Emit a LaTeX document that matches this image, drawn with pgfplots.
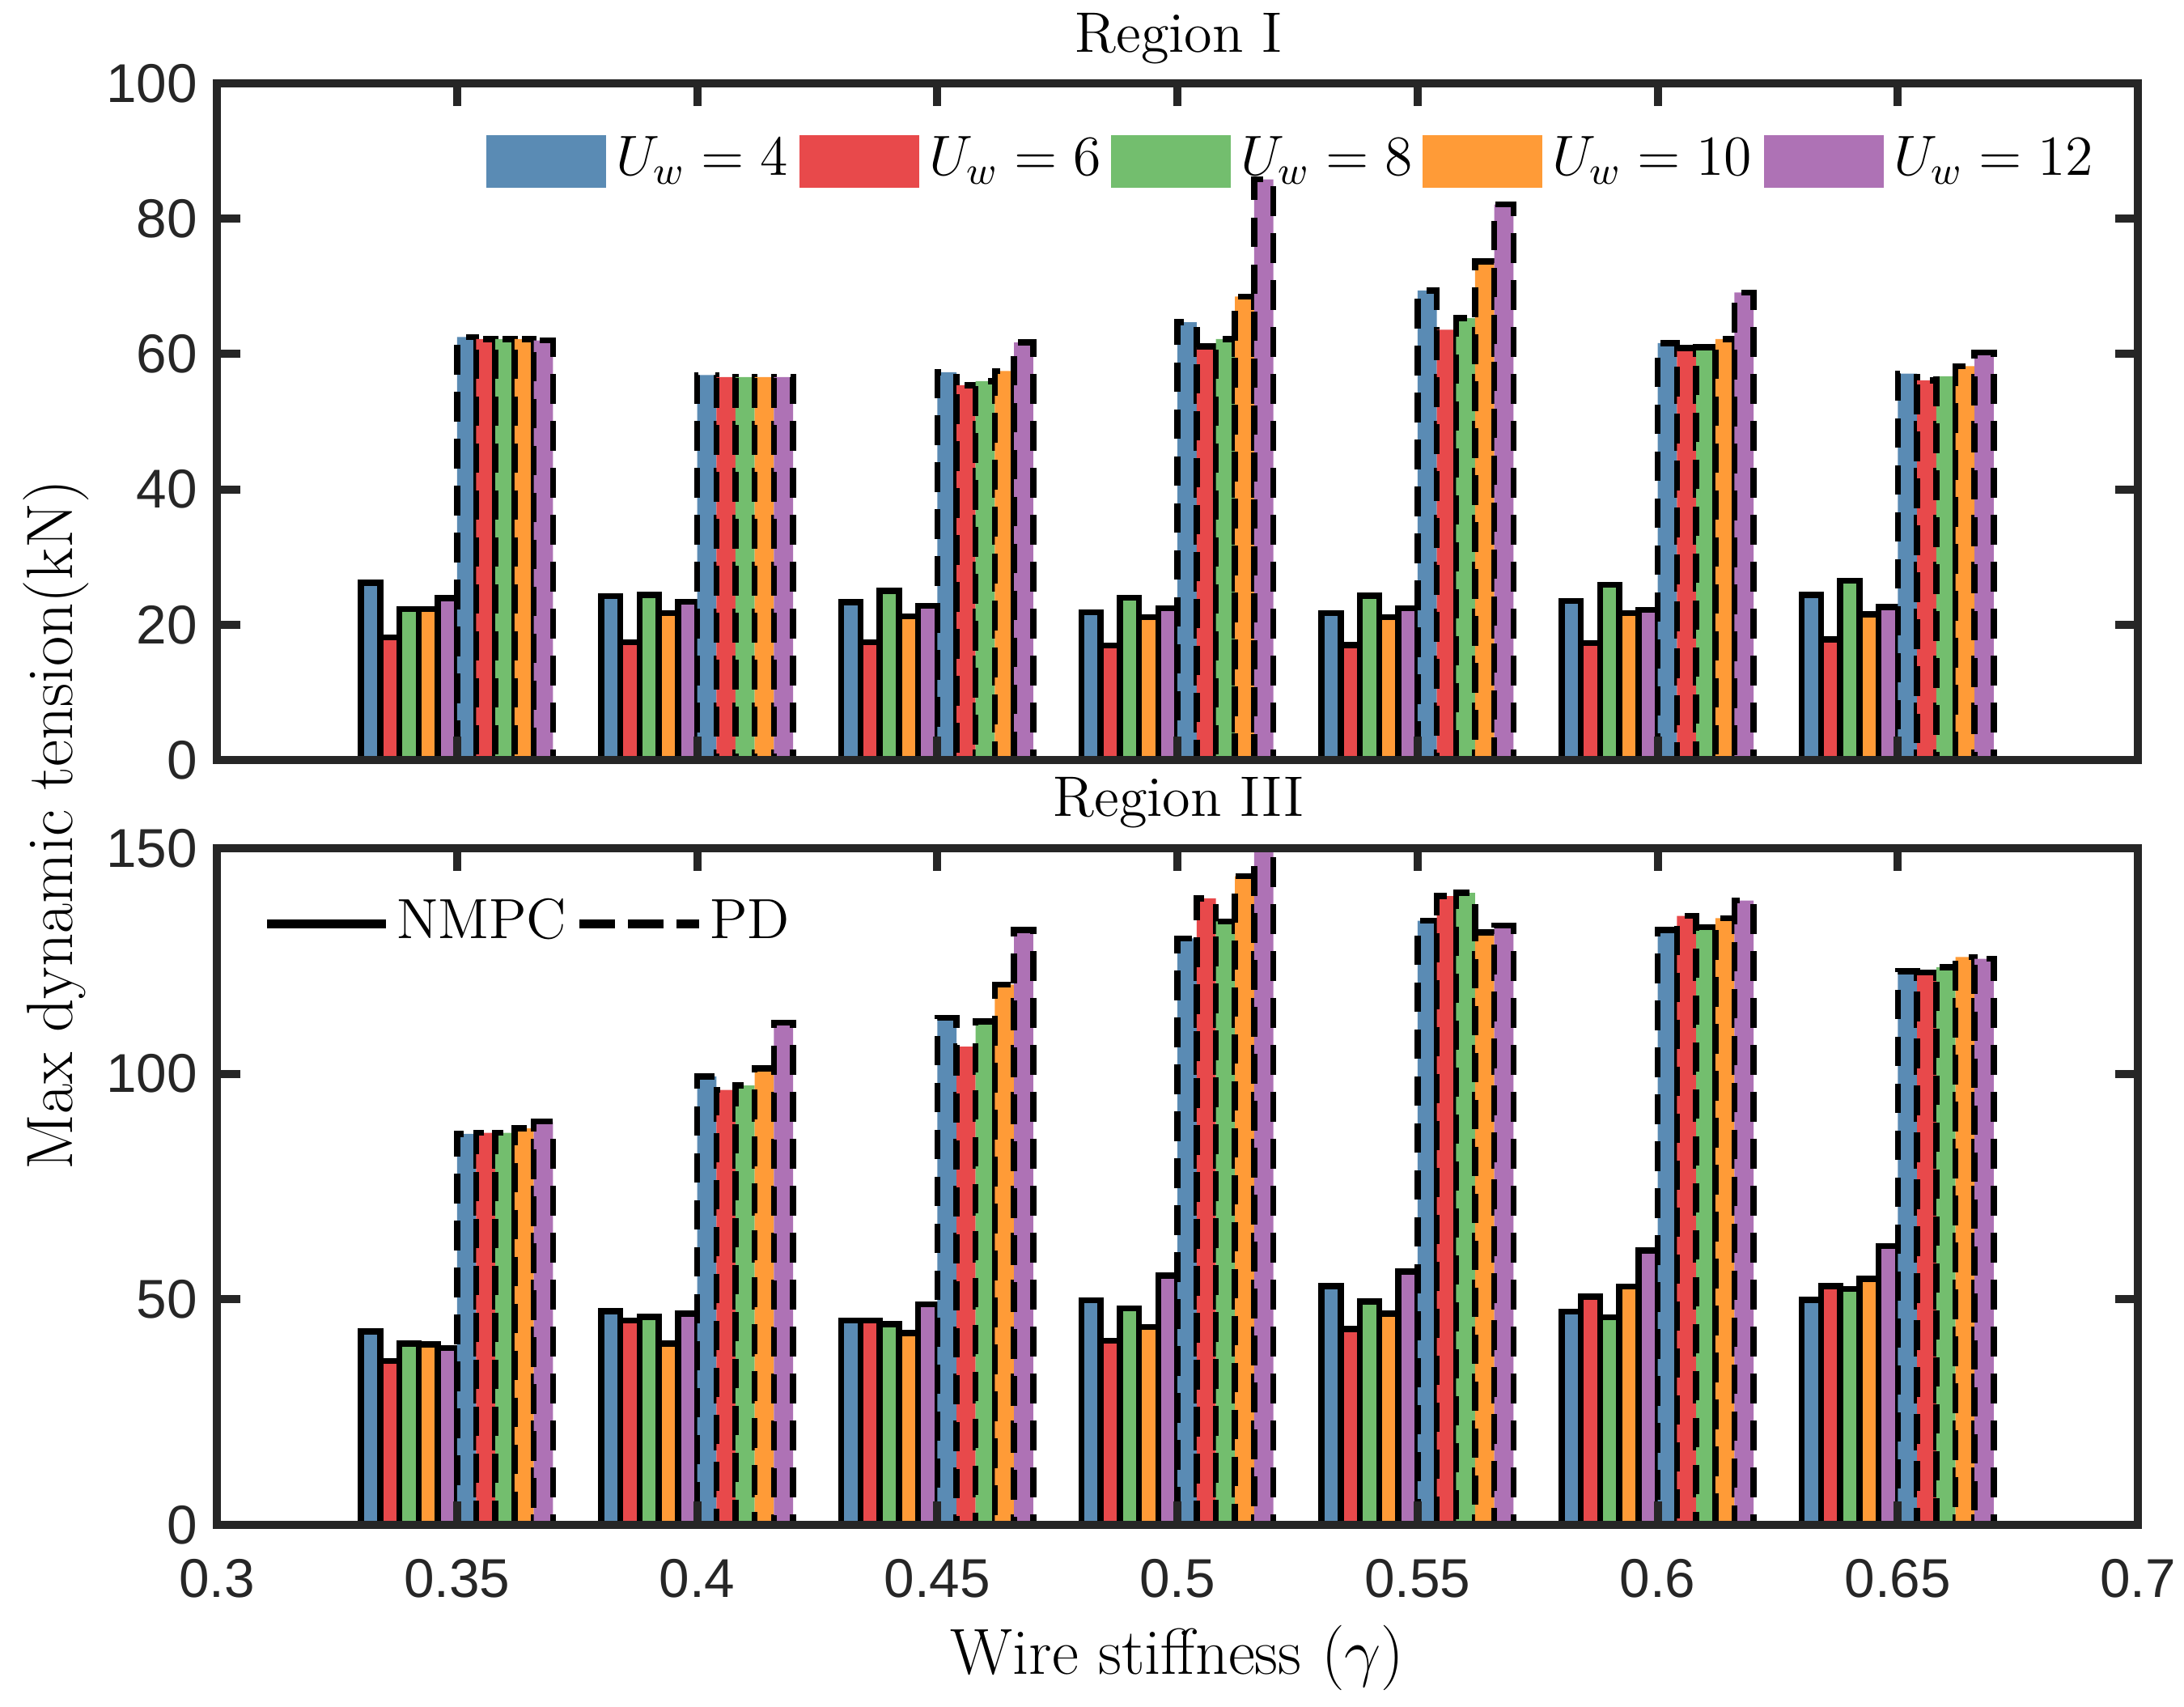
\RequirePackage{fix-cm}
\documentclass[border=0pt]{standalone}
\usepackage{fontspec}
\usepackage{pgfplots}
\usepackage{pgfplotstable}
\pgfplotsset{compat=1.18}
\newfontfamily\arial{Liberation Sans}

\definecolor{c1}{RGB}{90,139,180}
\definecolor{c2}{RGB}{232,73,75}
\definecolor{c3}{RGB}{115,190,110}
\definecolor{c4}{RGB}{255,155,55}
\definecolor{c5}{RGB}{174,114,181}
\definecolor{ax}{RGB}{38,38,38}

\pgfplotstableread{
g n1 n2 n3 n4 n5 p1 p2 p3 p4 p5
0.35 26.2 18.1 22.3 22.3 23.9 62.5 62.2 62.2 62.2 62.0
0.40 24.2 17.4 24.4 21.7 23.4 56.9 56.6 56.6 56.6 56.6
0.45 23.3 17.4 25.0 21.2 22.8 57.3 55.4 56.0 57.5 61.7
0.50 21.8 16.9 24.0 21.1 22.4 64.7 61.1 62.2 68.5 85.8
0.55 21.7 17.0 24.3 21.1 22.4 69.4 63.6 65.3 73.7 82.1
0.60 23.5 17.3 25.9 21.7 22.2 61.6 60.9 61.0 62.2 69.1
0.65 24.4 17.8 26.5 21.5 22.6 57.1 56.1 56.7 58.2 60.2
}\regI

\pgfplotstableread{
g n1 n2 n3 n4 n5 p1 p2 p3 p4 p5
0.35 42.9 36.3 40.2 40.0 39.2 86.7 86.9 86.9 87.9 89.4
0.40 47.4 45.3 46.1 40.2 46.8 99.4 96.4 97.4 101.2 111.3
0.45 45.3 45.3 44.5 42.5 48.9 112.4 106.0 111.6 119.8 131.9
0.50 49.8 40.8 48.0 43.9 55.3 130.0 138.9 133.8 143.8 152.0
0.55 52.9 43.4 49.5 46.8 56.2 133.9 139.4 140.1 131.3 132.9
0.60 47.3 50.6 46.0 52.8 60.8 131.9 135.0 132.5 134.5 138.4
0.65 49.9 52.9 52.3 54.5 61.8 122.7 122.5 123.6 125.9 125.5
}\regIII

% #1 table, #2 column, #3 x offset, #4 colour, #5 extra style
\newcommand\bs[5]{\addplot[ybar, bar width=0.004, bar shift=0pt, fill=#4, draw=black, line width=1.5pt, #5] table[x expr=\thisrow{g}#3, y=#2] {#1};}
\newcommand\allbars[1]{%
  \bs{#1}{n1}{-0.018}{c1}{}
  \bs{#1}{n2}{-0.014}{c2}{}
  \bs{#1}{n3}{-0.010}{c3}{}
  \bs{#1}{n4}{-0.006}{c4}{}
  \bs{#1}{n5}{-0.002}{c5}{}
  \bs{#1}{p1}{+0.002}{c1}{dash pattern=on 7.3pt off 4.3pt}
  \bs{#1}{p2}{+0.006}{c2}{dash pattern=on 7.3pt off 4.3pt}
  \bs{#1}{p3}{+0.010}{c3}{dash pattern=on 7.3pt off 4.3pt}
  \bs{#1}{p4}{+0.014}{c4}{dash pattern=on 7.3pt off 4.3pt}
  \bs{#1}{p5}{+0.018}{c5}{dash pattern=on 7.3pt off 4.3pt}
}

\pgfplotsset{
  myax/.style={
    anchor=south west, scale only axis, width=474.8pt, height=167.2pt,
    xmin=0.3, xmax=0.7, ymin=0,
    xtick={0.3,0.35,0.4,0.45,0.5,0.55,0.6,0.65,0.7},
    axis line style={line width=2pt, draw=ax, line cap=rect},
    tick style={line width=2pt, draw=ax},
    major tick length=5.7pt, tick align=inside,
    axis on top,
    /pgf/number format/assume math mode=true,
    ticklabel style={font=\arial\fontsize{13.5}{16}\selectfont, text=ax},
    xticklabel style={yshift=-5pt},
    yticklabel style={xshift=-1.3pt},
  }
}

\begin{document}
\begin{tikzpicture}
\begin{axis}[myax, at={(53.6pt,234pt)}, ymax=100,
  ytick={0,20,40,60,80,100}, yticklabels={0,20,40,60,80,100},
  xticklabels={}]
  \allbars{\regI}
\end{axis}
\begin{axis}[myax, at={(53.6pt,45pt)}, ymax=150,
  ytick={0,50,100,150}, yticklabels={0,50,100,150},
  xticklabels={0.3,0.35,0.4,0.45,0.5,0.55,0.6,0.65,0.7}]
  \allbars{\regIII}
\end{axis}

% titles and labels
\node[anchor=base, inner sep=0, font=\fontsize{14.1}{17}\selectfont] at (291.3pt,408.8pt) {Region I};
\node[anchor=base, inner sep=0, font=\fontsize{14.1}{17}\selectfont] at (291.3pt,220pt) {Region III};
\node[anchor=base, inner sep=0, font=\fontsize{16.1}{19}\selectfont] at (291pt,8.0pt) {Wire stiffness ($\gamma$)};
\node[rotate=90, anchor=base, inner sep=0, font=\fontsize{16.2}{19}\selectfont] at (17.8pt,218pt) {Max dynamic tension(kN)};

% legend, top panel
\fill[c1] (120.2pt,375.4pt) rectangle ++(29.5pt,13pt);
\node[anchor=base west, inner sep=0, font=\fontsize{14}{17}\selectfont] at (152.0pt,378.4pt) {$U_w=4$};
\fill[c2] (197.6pt,375.4pt) rectangle ++(29.5pt,13pt);
\node[anchor=base west, inner sep=0, font=\fontsize{14}{17}\selectfont] at (229.4pt,378.4pt) {$U_w=6$};
\fill[c3] (274.6pt,375.4pt) rectangle ++(29.5pt,13pt);
\node[anchor=base west, inner sep=0, font=\fontsize{14}{17}\selectfont] at (306.4pt,378.4pt) {$U_w=8$};
\fill[c4] (351.6pt,375.4pt) rectangle ++(29.5pt,13pt);
\node[anchor=base west, inner sep=0, font=\fontsize{14}{17}\selectfont] at (383.4pt,378.4pt) {$U_w=10$};
\fill[c5] (436.0pt,375.4pt) rectangle ++(29.5pt,13pt);
\node[anchor=base west, inner sep=0, font=\fontsize{14}{17}\selectfont] at (467.8pt,378.4pt) {$U_w=12$};

% legend, bottom panel
\draw[black, line width=2.2pt] (66.0pt,193.4pt) -- (95.4pt,193.4pt);
\node[anchor=base west, inner sep=0, font=\fontsize{14}{17}\selectfont] at (97.8pt,189.8pt) {NMPC};
\draw[black, line width=2.2pt, dash pattern=on 8.8pt off 3.2pt] (143.2pt,193.4pt) -- (172.8pt,193.4pt);
\node[anchor=base west, inner sep=0, font=\fontsize{14}{17}\selectfont] at (175.2pt,189.8pt) {PD};

\pgfresetboundingbox
\useasboundingbox (0,0) rectangle (539.8pt,421.8pt);
\end{tikzpicture}
\end{document}
